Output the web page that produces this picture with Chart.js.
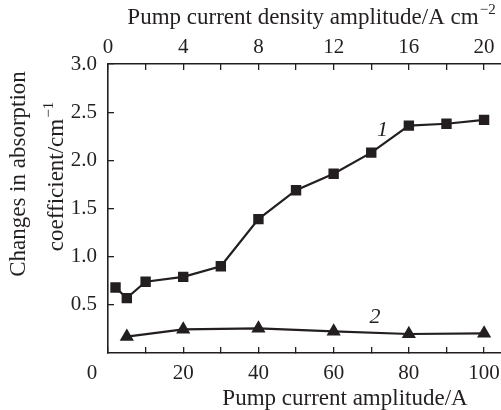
<!DOCTYPE html>
<html>
<head>
<meta charset="utf-8">
<script src="https://cdn.jsdelivr.net/npm/chart.js@4/dist/chart.umd.min.js"></script>
<style>
html,body{margin:0;padding:0;background:#fff;}
#wrap{width:501px;height:410px;}
</style>
</head>
<body>
<div id="wrap"><canvas id="c" width="501" height="410"></canvas></div>
<script>
// Data
const currentA1 = [2, 5, 10, 20, 30, 40, 50, 60, 70, 80, 90, 100];
const absorption1 = [0.68, 0.57, 0.74, 0.79, 0.90, 1.39, 1.69, 1.86, 2.08, 2.36, 2.38, 2.42];
const currentA2 = [5, 20, 40, 60, 80, 100];
const absorption2 = [0.17, 0.245, 0.256, 0.225, 0.197, 0.204];
const yTickValues = [0.5, 1.0, 1.5, 2.0, 2.5, 3.0];
const xTickValues = [0, 10, 20, 30, 40, 50, 60, 70, 80, 90, 100];
const xTickLabels = ['', '', '20', '', '40', '', '60', '', '80', '', '100'];
const topTickValues = [0, 2, 4, 6, 8, 10, 12, 14, 16, 18, 20];
const topTickLabels = ['0', '', '4', '', '8', '', '12', '', '16', '', '20'];

const INK = '#231f20';
const SERIF = '"Liberation Serif", "Times New Roman", serif';
const X_MAX = 104.5;

const textPlugin = {
  id: 'texts',
  afterDraw(chart) {
    const ctx = chart.ctx;
    const x = chart.scales.x, y = chart.scales.y;
    ctx.save();
    ctx.fillStyle = INK;
    ctx.textBaseline = 'middle';
    ctx.font = '23px ' + SERIF;
    ctx.save();
    ctx.translate(19, 174);
    ctx.rotate(-Math.PI / 2);
    ctx.textAlign = 'center';
    ctx.fillText('Changes in absorption', 0, 0);
    ctx.restore();
    ctx.save();
    ctx.translate(57, 177);
    ctx.rotate(-Math.PI / 2);
    const base2 = 'coefficient/cm';
    const sup2 = '\u22121';
    ctx.font = '23px ' + SERIF;
    const w2a = ctx.measureText(base2).width;
    ctx.font = '15px ' + SERIF;
    const w2b = ctx.measureText(sup2).width;
    let sx = -(w2a + w2b) / 2;
    ctx.textAlign = 'left';
    ctx.font = '23px ' + SERIF;
    ctx.fillText(base2, sx, 0);
    ctx.font = '15px ' + SERIF;
    ctx.fillText(sup2, sx + w2a + 1, -8);
    ctx.restore();
    ctx.font = '23px ' + SERIF;
    ctx.textAlign = 'center';
    ctx.fillText('Pump current amplitude/A', 345, 399);
    const t1 = 'Pump current density amplitude/A cm';
    const t2 = '\u22122';
    ctx.font = '23px ' + SERIF;
    const wa = ctx.measureText(t1).width;
    ctx.font = '15px ' + SERIF;
    const wb = ctx.measureText(t2).width;
    const start = 311 - (wa + wb) / 2;
    ctx.textAlign = 'left';
    ctx.font = '23px ' + SERIF;
    ctx.fillText(t1, start, 18);
    ctx.font = '15px ' + SERIF;
    ctx.fillText(t2, start + wa + 1, 10);
    ctx.font = '21px ' + SERIF;
    ctx.textAlign = 'center';
    ctx.fillText('0', x.getPixelForValue(0) - 16, 373);
    ctx.font = 'italic 22px ' + SERIF;
    ctx.fillText('1', x.getPixelForValue(73), y.getPixelForValue(2.31));
    ctx.fillText('2', x.getPixelForValue(71), y.getPixelForValue(0.375));
    ctx.restore();
  }
};

function noPadX(s) { s.paddingLeft = 0; s.paddingRight = 0; }

new Chart(document.getElementById('c'), {
  type: 'scatter',
  data: {
    datasets: [
      {
        data: currentA1.map((v, i) => ({x: v, y: absorption1[i]})),
        showLine: true, borderColor: INK, backgroundColor: INK, borderWidth: 2.2,
        pointStyle: 'rect', pointRadius: 5.8, pointHoverRadius: 5.8,
        xAxisID: 'x', yAxisID: 'y'
      },
      {
        data: currentA2.map((v, i) => ({x: v, y: absorption2[i]})),
        showLine: true, borderColor: INK, backgroundColor: INK, borderWidth: 2.2,
        pointStyle: 'triangle', pointRadius: 6, pointHoverRadius: 6,
        xAxisID: 'x', yAxisID: 'y'
      }
    ]
  },
  options: {
    responsive: false,
    animation: false,
    events: [],
    layout: {autoPadding: false, padding: {left: 0, right: 0, top: 0, bottom: 0}},
    plugins: {legend: {display: false}, tooltip: {enabled: false}},
    scales: {
      x: {
        type: 'linear', position: 'bottom', min: 0, max: X_MAX,
        afterBuildTicks: s => { s.ticks = xTickValues.map(v => ({value: v})); },
        afterFit: s => { s.height = 57; noPadX(s); },
        ticks: {
          callback: (v, i) => xTickLabels[i],
          autoSkip: false, maxRotation: 0, padding: 14,
          color: INK, font: {family: SERIF, size: 21}
        },
        grid: {drawOnChartArea: false, drawTicks: true, tickLength: -6, color: INK, lineWidth: 1.3},
        border: {display: true, color: INK, width: 1.6}
      },
      x2: {
        type: 'linear', position: 'top', min: 0, max: X_MAX / 5,
        afterBuildTicks: s => { s.ticks = topTickValues.map(v => ({value: v})); },
        afterFit: s => { s.height = 64; noPadX(s); },
        ticks: {
          callback: (v, i) => topTickLabels[i],
          autoSkip: false, maxRotation: 0, padding: 10,
          color: INK, font: {family: SERIF, size: 21}
        },
        grid: {drawOnChartArea: false, drawTicks: true, tickLength: -6, color: INK, lineWidth: 1.3},
        border: {display: true, color: INK, width: 1.6}
      },
      y: {
        type: 'linear', position: 'left', min: 0, max: 3.0,
        afterBuildTicks: s => { s.ticks = yTickValues.map(v => ({value: v})); },
        afterFit: s => { s.width = 108; s.paddingTop = 0; s.paddingBottom = 0; },
        ticks: {
          callback: v => v.toFixed(1),
          padding: 17,
          color: INK, font: {family: SERIF, size: 21}
        },
        grid: {drawOnChartArea: false, drawTicks: true, tickLength: -6, color: INK, lineWidth: 1.3},
        border: {display: true, color: INK, width: 1.6}
      }
    }
  },
  plugins: [textPlugin]
});
</script>
</body>
</html>
